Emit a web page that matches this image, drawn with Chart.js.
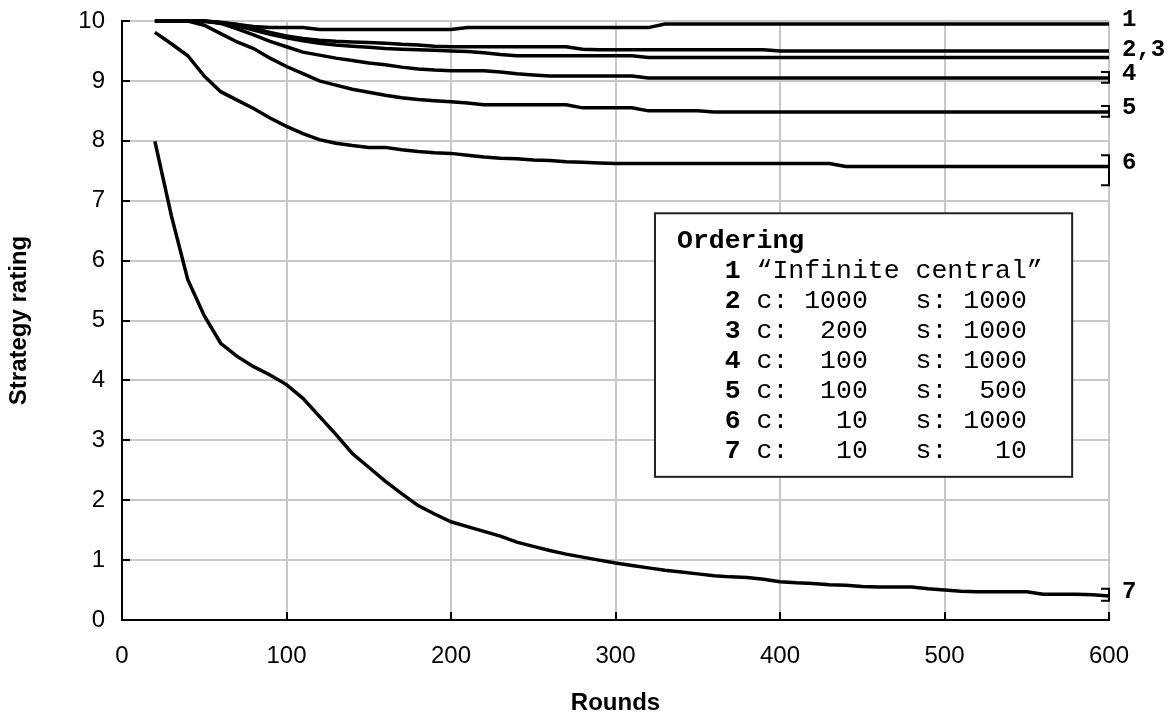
<!DOCTYPE html>
<html>
<head>
<meta charset="utf-8">
<script src="https://cdn.jsdelivr.net/npm/chart.js@4.4.1/dist/chart.umd.min.js"></script>
<style>
    html, body { margin: 0; padding: 0; background: #fff; }
</style>
</head>
<body>
<canvas id="rating-chart" width="1174" height="715"></canvas>
<script>
// Rounds (x values)
const rounds = [20, 30, 40, 50, 60, 70, 80, 90, 100, 110, 120, 130, 140, 150, 160, 170, 180, 190, 200,
    210, 220, 230, 240, 250, 260, 270, 280, 290, 300, 310, 320, 330, 340, 350, 360, 370, 380, 390, 400,
    410, 420, 430, 440, 450, 460, 470, 480, 490, 500, 510, 520, 530, 540, 550, 560, 570, 580, 590, 600];

// 1 "Infinite central"
const series1 = [10, 10, 10, 9.99, 9.97, 9.94, 9.91, 9.89, 9.89, 9.89, 9.86, 9.86, 9.86, 9.86, 9.86, 9.86, 9.86, 9.86, 9.86,
    9.89, 9.89, 9.89, 9.89, 9.89, 9.89, 9.89, 9.89, 9.89, 9.89, 9.89, 9.89, 9.95, 9.95, 9.95, 9.95, 9.95, 9.95, 9.95, 9.95,
    9.95, 9.95, 9.95, 9.95, 9.95, 9.95, 9.95, 9.95, 9.95, 9.95, 9.95, 9.95, 9.95, 9.95, 9.95, 9.95, 9.95, 9.95, 9.95, 9.95];
// 2 c: 1000 s: 1000
const series2 = [10, 10, 10, 10, 9.98, 9.94, 9.88, 9.81, 9.75, 9.71, 9.68, 9.66, 9.65, 9.64, 9.63, 9.61, 9.60, 9.58, 9.57,
    9.57, 9.57, 9.57, 9.57, 9.57, 9.57, 9.57, 9.53, 9.52, 9.52, 9.52, 9.52, 9.52, 9.52, 9.52, 9.52, 9.52, 9.52, 9.52, 9.50,
    9.50, 9.50, 9.50, 9.50, 9.50, 9.50, 9.50, 9.50, 9.50, 9.50, 9.50, 9.50, 9.50, 9.50, 9.50, 9.50, 9.50, 9.50, 9.50, 9.50];
// 3 c: 200 s: 1000
const series3 = [10, 10, 10, 10, 9.97, 9.92, 9.85, 9.78, 9.72, 9.67, 9.63, 9.60, 9.58, 9.56, 9.54, 9.53, 9.52, 9.51, 9.50,
    9.49, 9.47, 9.44, 9.42, 9.42, 9.42, 9.42, 9.42, 9.42, 9.42, 9.42, 9.39, 9.39, 9.39, 9.39, 9.39, 9.39, 9.39, 9.39, 9.39,
    9.39, 9.39, 9.39, 9.39, 9.39, 9.39, 9.39, 9.39, 9.39, 9.39, 9.39, 9.39, 9.39, 9.39, 9.39, 9.39, 9.39, 9.39, 9.39, 9.39];
// 4 c: 100 s: 1000
const series4 = [10, 10, 10, 10, 9.96, 9.87, 9.77, 9.66, 9.57, 9.48, 9.43, 9.38, 9.34, 9.30, 9.27, 9.23, 9.20, 9.18, 9.17,
    9.17, 9.17, 9.15, 9.12, 9.10, 9.08, 9.08, 9.08, 9.08, 9.08, 9.08, 9.05, 9.05, 9.05, 9.05, 9.05, 9.05, 9.05, 9.05, 9.05,
    9.05, 9.05, 9.05, 9.05, 9.05, 9.05, 9.05, 9.05, 9.05, 9.05, 9.05, 9.05, 9.05, 9.05, 9.05, 9.05, 9.05, 9.05, 9.05, 9.05];
// 5 c: 100 s: 500
const series5 = [10, 10, 10, 9.93, 9.79, 9.65, 9.54, 9.38, 9.24, 9.12, 9.00, 8.93, 8.86, 8.81, 8.76, 8.72, 8.69, 8.67, 8.65,
    8.63, 8.60, 8.60, 8.60, 8.60, 8.60, 8.60, 8.55, 8.55, 8.55, 8.55, 8.50, 8.50, 8.50, 8.50, 8.48, 8.48, 8.48, 8.48, 8.48,
    8.48, 8.48, 8.48, 8.48, 8.48, 8.48, 8.48, 8.48, 8.48, 8.48, 8.48, 8.48, 8.48, 8.48, 8.48, 8.48, 8.48, 8.48, 8.48, 8.48];
// 6 c: 10 s: 1000
const series6 = [9.81, 9.62, 9.42, 9.08, 8.82, 8.68, 8.54, 8.38, 8.24, 8.12, 8.02, 7.96, 7.92, 7.89, 7.89, 7.85, 7.82, 7.80, 7.79,
    7.76, 7.73, 7.71, 7.70, 7.68, 7.67, 7.65, 7.64, 7.63, 7.62, 7.62, 7.62, 7.62, 7.62, 7.62, 7.62, 7.62, 7.62, 7.62, 7.62,
    7.62, 7.62, 7.62, 7.57, 7.57, 7.57, 7.57, 7.57, 7.57, 7.57, 7.57, 7.57, 7.57, 7.57, 7.57, 7.57, 7.57, 7.57, 7.57, 7.57];
// 7 c: 10 s: 10
const series7 = [7.99, 6.75, 5.68, 5.08, 4.62, 4.40, 4.23, 4.09, 3.93, 3.70, 3.40, 3.10, 2.78, 2.55, 2.32, 2.11, 1.91, 1.77, 1.64,
    1.56, 1.48, 1.40, 1.30, 1.23, 1.16, 1.10, 1.05, 1.00, 0.95, 0.91, 0.87, 0.83, 0.80, 0.77, 0.74, 0.72, 0.71, 0.68, 0.64,
    0.62, 0.61, 0.59, 0.58, 0.56, 0.55, 0.55, 0.55, 0.52, 0.50, 0.48, 0.47, 0.47, 0.47, 0.47, 0.43, 0.43, 0.43, 0.42, 0.40];

const allSeries = [series1, series2, series3, series4, series5, series6, series7];
const seriesNames = ['1', '2', '3', '4', '5', '6', '7'];

// labels at the right end, and which series each one belongs to
const endLabels = ['1', '2,3', '4', '5', '6', '7'];
const endLabelSeries = [[0], [1, 2], [3], [4], [5], [6]];

// range brackets at the right edge (rating values)
const bracketLow = [null, null, null, 8.97, 8.40, 7.26, 0.32];
const bracketHigh = [null, null, null, 9.15, 8.58, 7.76, 0.52];

// legend box text
const legendTitle = 'Ordering';
const legendNumbers = ['1', '2', '3', '4', '5', '6', '7'];
const legendTexts = [
    ' \u201CInfinite central\u201D',
    ' c: 1000   s: 1000',
    ' c:  200   s: 1000',
    ' c:  100   s: 1000',
    ' c:  100   s:  500',
    ' c:   10   s: 1000',
    ' c:   10   s:   10'
];

const sansFont = '"Liberation Sans", Arial, sans-serif';
const monoFont = '"Liberation Mono", "Courier New", monospace';

const overlayPlugin = {
    id: 'overlay',
    afterDraw(chart) {
        const ctx = chart.ctx;
        const xs = chart.scales.x;
        const ys = chart.scales.y;
        const area = chart.chartArea;
        ctx.save();

        // ticks pointing inside the plot
        ctx.strokeStyle = '#000';
        ctx.lineWidth = 2;
        ctx.beginPath();
        ys.ticks.forEach(t => {
            const py = Math.round(ys.getPixelForValue(t.value));
            ctx.moveTo(area.left, py);
            ctx.lineTo(area.left + 8, py);
        });
        xs.ticks.forEach(t => {
            const px = Math.round(xs.getPixelForValue(t.value));
            ctx.moveTo(px, area.bottom);
            ctx.lineTo(px, area.bottom - 8);
        });
        ctx.stroke();

        // brackets
        const xr = xs.getPixelForValue(600);
        ctx.beginPath();
        bracketLow.forEach((lo, i) => {
            if (lo === null) return;
            const yl = ys.getPixelForValue(lo);
            const yh = ys.getPixelForValue(bracketHigh[i]);
            ctx.moveTo(xr - 8, yh);
            ctx.lineTo(xr, yh);
            ctx.lineTo(xr, yl);
            ctx.lineTo(xr - 8, yl);
        });
        ctx.stroke();

        // end labels
        ctx.fillStyle = '#000';
        ctx.font = 'bold 24px ' + monoFont;
        ctx.textAlign = 'left';
        ctx.textBaseline = 'middle';
        endLabels.forEach((txt, i) => {
            const idx = endLabelSeries[i];
            let sum = 0;
            idx.forEach(k => { sum += allSeries[k][allSeries[k].length - 1]; });
            const py = ys.getPixelForValue(sum / idx.length) - 4;
            ctx.fillText(txt, xr + 13, py);
        });

        // legend box
        const bx = xs.getPixelForValue(324);
        const bw = xs.getPixelForValue(577.6) - bx;
        const by = ys.getPixelForValue(6.79);
        const bh = ys.getPixelForValue(2.39) - by;
        ctx.fillStyle = '#fff';
        ctx.fillRect(bx, by, bw, bh);
        ctx.strokeStyle = '#222';
        ctx.lineWidth = 2;
        ctx.strokeRect(bx, by, bw, bh);

        ctx.fillStyle = '#000';
        ctx.textBaseline = 'alphabetic';
        const tx = bx + 22;
        ctx.font = 'bold 26.5px ' + monoFont;
        ctx.fillText(legendTitle, tx, by + 35);
        legendNumbers.forEach((num, i) => {
            const ly = by + 65 + i * 30;
            ctx.font = 'bold 26.5px ' + monoFont;
            const nx = tx + ctx.measureText('   ').width;
            ctx.fillText(num, nx, ly);
            const w = ctx.measureText(num).width;
            ctx.font = '26.5px ' + monoFont;
            ctx.fillText(legendTexts[i], nx + w, ly);
        });

        ctx.restore();
    }
};

const canvas = document.getElementById('rating-chart');

new Chart(canvas, {
    type: 'line',
    data: {
        datasets: allSeries.map((vals, i) => ({
            label: seriesNames[i],
            data: rounds.map((r, j) => ({x: r, y: vals[j]})),
            borderColor: '#000',
            borderWidth: 3.5,
            pointRadius: 0,
            tension: 0,
            fill: false,
            clip: 4,
        })),
    },
    options: {
        responsive: false,
        animation: false,
        layout: {
            padding: {top: 21, right: 65, left: 0, bottom: 0},
        },
        plugins: {
            legend: {display: false},
            tooltip: {enabled: false},
        },
        scales: {
            x: {
                type: 'linear',
                min: 0,
                max: 600,
                afterFit(scale) {
                    scale.height = 95;
                    scale.paddingLeft = 0;
                    scale.paddingRight = 0;
                },
                ticks: {
                    stepSize: 100,
                    color: '#000',
                    padding: 22,
                    font: {family: sansFont, size: 24},
                },
                grid: {color: '#c8c8c8', lineWidth: 2, drawTicks: false},
                border: {color: '#000', width: 2},
                title: {
                    display: true,
                    text: 'Rounds',
                    color: '#000',
                    padding: {top: 0, bottom: 0},
                    font: {family: sansFont, size: 24, weight: 'bold', lineHeight: 1},
                },
            },
            y: {
                min: 0,
                max: 10,
                afterFit(scale) {
                    scale.width = 122;
                    scale.paddingTop = 0;
                    scale.paddingBottom = 0;
                },
                ticks: {
                    stepSize: 1,
                    color: '#000',
                    padding: 17,
                    font: {family: sansFont, size: 24},
                },
                grid: {color: '#c8c8c8', lineWidth: 2, drawTicks: false},
                border: {color: '#000', width: 2},
                title: {
                    display: true,
                    text: 'Strategy rating',
                    color: '#000',
                    padding: {top: 7, bottom: 0},
                    font: {family: sansFont, size: 24, weight: 'bold', lineHeight: 1},
                },
            },
        },
    },
    plugins: [overlayPlugin],
});
</script>
</body>
</html>
